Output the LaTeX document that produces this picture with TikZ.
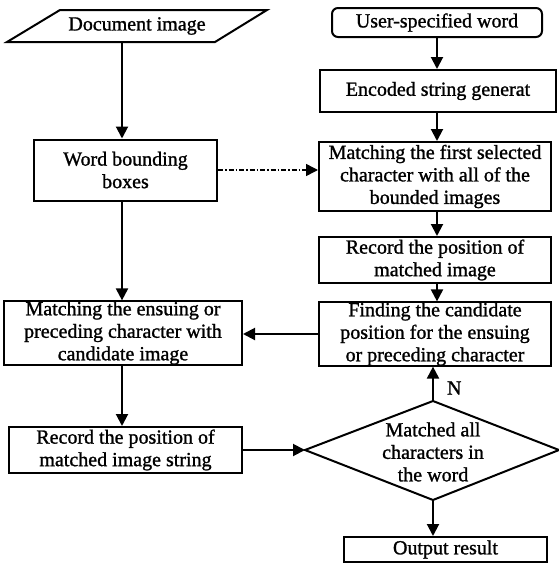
\documentclass[tikz,border=0pt]{standalone}
\usepackage{fontspec}
\setmainfont{Liberation Serif}[RawFeature={embolden=1.2}]
\usetikzlibrary{arrows.meta}
\begin{document}
\begin{tikzpicture}[x=1pt,y=-1pt,line width=2pt,
  >={Triangle[length=12pt,width=12pt]},
  txt/.style={inner sep=0pt,align=center,font=\fontsize{20}{22.5}\selectfont},
  box/.style={txt,draw,rectangle},
  flow/.style={->},
  dashflow/.style={->,line width=1.5pt,dash pattern=on 5pt off 2pt on 1.5pt off 2pt}]
\useasboundingbox (0,0) rectangle (559,563);
% left column
\coordinate (p1) at (60,10);
\coordinate (p2) at (267,10);
\coordinate (p3) at (215,42);
\coordinate (p4) at (7,42);
\draw (p1) -- (p2) -- (p3) -- (p4) -- cycle;
\node[txt] (doc) at (137,26) {Document image};
\coordinate (docout) at (122,42);
\node[box,minimum width=183pt,minimum height=61pt] (word) at (125.5,170) {Word bounding\\boxes};
\node[box,minimum width=238pt,minimum height=59pt] (ens) at (123,333) {Matching the ensuing or\\preceding character with\\candidate image};
\node[box,minimum width=233pt,minimum height=46pt] (recstr) at (125.5,450) {Record the position of\\matched image string};
% right column
\node[box,rounded corners=6pt,minimum width=210pt,minimum height=29pt] (user) at (437,22.5) {User-specified word};
\node[box,minimum width=236pt,minimum height=42pt] (enc) at (438,91) {Encoded string generat};
\node[box,minimum width=232pt,minimum height=69pt] (mfirst) at (435,176.5) {Matching the first selected\\character with all of the\\bounded images};
\node[box,minimum width=232pt,minimum height=46pt] (recpos) at (435,260) {Record the position of\\matched image};
\node[box,minimum width=232pt,minimum height=58pt] (find) at (435,334) {Finding the candidate\\position for the ensuing\\or preceding character};
\coordinate (dT) at (433,401);
\coordinate (dR) at (559,450);
\coordinate (dB) at (433,500);
\coordinate (dL) at (305,450);
\draw (dT) -- (dR) -- (dB) -- (dL) -- cycle;
\node[txt] (dia) at (433,452) {Matched all\\characters in\\the word};
\node[box,minimum width=203pt,minimum height=25pt] (out) at (445.5,549.5) {Output result};
\node[txt,anchor=west] (nlab) at (446,388) {N};
% connectors
\draw[flow] (docout) -- (docout |- word.north);
\draw[flow] (word.south -| docout) -- (docout |- ens.north);
\draw[flow] (ens.south -| docout) -- (docout |- recstr.north);
\draw[flow] (recstr.east) -- (dL);
\draw[dashflow] (word.east) -- (word.east -| mfirst.west);
\draw[flow] (user.south) -- (user.south |- enc.north);
\draw[flow] (enc.south -| user.south) -- (user.south |- mfirst.north);
\draw[flow] (mfirst.south -| user.south) -- (user.south |- recpos.north);
\draw[flow] (recpos.south -| user.south) -- (user.south |- find.north);
\draw[flow] (dT) -- (dT |- find.south);
\draw[flow] (find.west) -- (find.west -| ens.east);
\draw[flow] (dB) -- (dB |- out.north);
\end{tikzpicture}
\end{document}
